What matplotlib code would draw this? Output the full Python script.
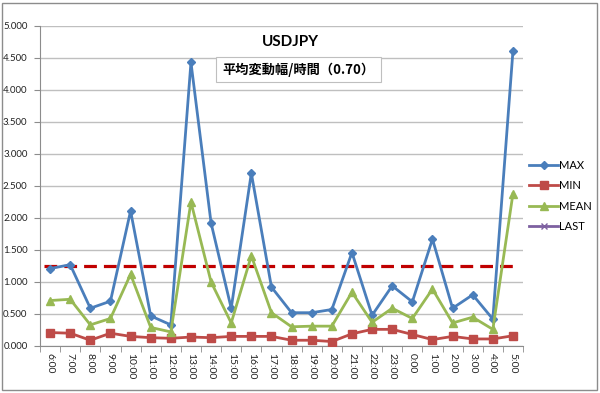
import matplotlib
matplotlib.use("Agg")
import matplotlib.pyplot as plt
from matplotlib.patches import Rectangle

plt.rcParams['font.family'] = ['Lato', 'Noto Sans CJK JP', 'DejaVu Sans']

hours = ["6:00", "7:00", "8:00", "9:00", "10:00", "11:00", "12:00", "13:00",
         "14:00", "15:00", "16:00", "17:00", "18:00", "19:00", "20:00", "21:00",
         "22:00", "23:00", "0:00", "1:00", "2:00", "3:00", "4:00", "5:00"]
max_vals = [1.21, 1.27, 0.59, 0.70, 2.11, 0.47, 0.33, 4.43, 1.92, 0.59, 2.70, 0.92,
            0.52, 0.52, 0.57, 1.46, 0.48, 0.94, 0.69, 1.67, 0.59, 0.80, 0.42, 4.61]
min_vals = [0.21, 0.20, 0.09, 0.20, 0.15, 0.13, 0.12, 0.14, 0.13, 0.15, 0.15, 0.15,
            0.09, 0.09, 0.07, 0.19, 0.26, 0.26, 0.18, 0.10, 0.15, 0.11, 0.11, 0.16]
mean_vals = [0.71, 0.73, 0.33, 0.43, 1.12, 0.29, 0.22, 2.25, 1.00, 0.36, 1.41, 0.52,
             0.30, 0.31, 0.31, 0.84, 0.37, 0.59, 0.43, 0.89, 0.36, 0.45, 0.26, 2.38]
last_vals = []  # only shown in the legend
ref_level = 1.25
title = "USDJPY"
subtitle = "平均変動幅/時間（0.70）"

fig = plt.figure(figsize=(6, 3.93), dpi=100)
# outer chart border like the Excel chart area
fig.patches.append(Rectangle((0.003, 0.008), 0.992, 0.985, transform=fig.transFigure,
                             fill=False, edgecolor='#8c8c8c', linewidth=1.0))
ax = fig.add_axes([0.0667, 0.1196, 0.805, 0.8144])

x = list(range(len(hours)))
ax.plot(x, max_vals, color='#4A7EBB', lw=2, marker='D', ms=4, label='MAX', zorder=4)
ax.plot(x, min_vals, color='#BE4B48', lw=2, marker='s', ms=5.5, label='MIN', zorder=4)
ax.plot(x, mean_vals, color='#98B954', lw=2, marker='^', ms=6, label='MEAN', zorder=4)
ax.plot(x[:len(last_vals)], last_vals, color='#7D60A0', lw=2, marker='x', ms=5,
        label='LAST', zorder=4)
ax.hlines(ref_level, -0.3, 23.2, colors='#C00000', linestyles=(0, (4, 2.2)), lw=2.3, zorder=3)

ax.set_xlim(-0.5, len(hours) - 0.5)
ax.set_ylim(0, 5)
ax.set_yticks([i * 0.5 for i in range(11)])
ax.set_yticklabels([f"{i * 0.5:.3f}" for i in range(11)], fontsize=7, color='#222222')
ax.set_xticks(x)
ax.set_xticklabels(hours, rotation=270, fontsize=7.5, color='#222222')
ax.set_xticks([i - 0.5 for i in range(len(hours) + 1)], minor=True)
ax.tick_params(axis='x', which='major', length=0, pad=5)
ax.tick_params(axis='x', which='minor', length=4, color='#8c8c8c', direction='out')
ax.tick_params(axis='y', length=4, color='#8c8c8c', direction='out', pad=5)

ax.grid(axis='y', color='#bfbfbf', lw=1)
ax.set_axisbelow(True)
for side in ['top', 'right']:
    ax.spines[side].set_visible(False)
for side in ['left', 'bottom']:
    ax.spines[side].set_color('#8c8c8c')

fig.text(0.484, 0.892, title, ha='center', va='center', fontsize=11, fontweight='bold')
# subtitle box (text box placed on the chart in Excel)
fig.patches.append(Rectangle((0.36, 0.791), 0.275, 0.065, transform=fig.transFigure,
                             fc='white', ec='#bfbfbf', lw=0.8, zorder=5))
fig.text(0.4975, 0.823, subtitle, ha='center', va='center', fontsize=9.5, fontweight='bold',
         family=['Noto Sans CJK JP', 'DejaVu Sans'], zorder=6)

leg = fig.legend(loc='upper left', bbox_to_anchor=(0.875, 0.605), frameon=False,
                 fontsize=8, handlelength=2.6, handletextpad=0.1, labelspacing=0.85,
                 borderaxespad=0)

fig.savefig("out.png", dpi=100)
